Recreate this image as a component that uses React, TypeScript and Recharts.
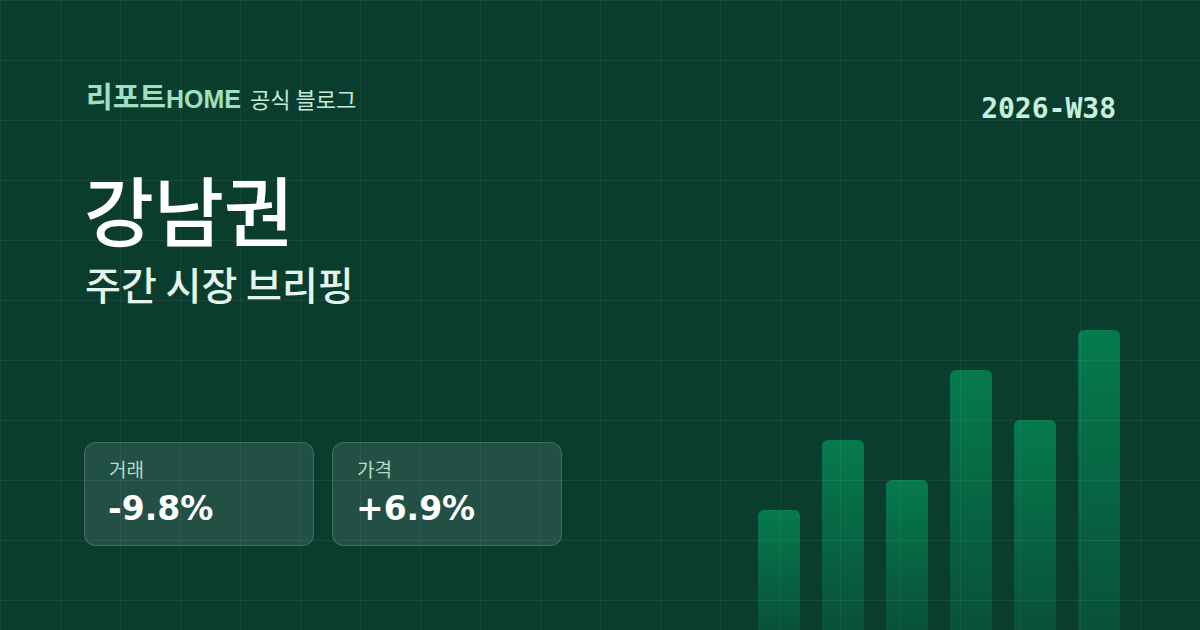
import React from "react";
import { BarChart, Bar, XAxis, YAxis } from "recharts";

const weeks = ["W33", "W34", "W35", "W36", "W37", "W38"];
const volumes = [120, 190, 150, 260, 210, 300];
const cardLabels = ["거래", "가격"];
const cardValues = ["-9.8%", "+6.9%"];

const data = weeks.map((w, i) => ({ week: w, v: volumes[i] }));

const cjk = '"Noto Sans CJK KR", sans-serif';

export default function App() {
  return (
    <div
      style={{
        position: "absolute",
        left: 0,
        top: 0,
        width: 1200,
        height: 630,
        overflow: "hidden",
        background: "#0b3d2f",
      }}
    >
      <div style={{ position: "absolute", left: 0, top: 0 }}>
        <BarChart
          width={1200}
          height={630}
          data={data}
          margin={{ top: 330, right: 69, bottom: 0, left: 747 }}
        >
          <defs>
            <linearGradient id="barGrad" x1="0" y1="0" x2="0" y2="1">
              <stop offset="0%" stopColor="#02a060" stopOpacity={0.62} />
              <stop offset="100%" stopColor="#02a060" stopOpacity={0.2} />
            </linearGradient>
          </defs>
          <XAxis dataKey="week" hide />
          <YAxis hide domain={[0, 300]} />
          <Bar
            dataKey="v"
            barSize={42}
            radius={[6, 6, 0, 0]}
            fill="url(#barGrad)"
            isAnimationActive={false}
          />
        </BarChart>
      </div>
      <div
        style={{
          position: "absolute",
          inset: 0,
          pointerEvents: "none",
          backgroundImage:
            "linear-gradient(to right, rgba(255,255,255,0.06) 1px, transparent 1px), linear-gradient(to bottom, rgba(255,255,255,0.06) 1px, transparent 1px)",
          backgroundSize: "60px 60px",
        }}
      />
      {cardLabels.map((lab, i) => (
        <div
          key={lab}
          style={{
            position: "absolute",
            left: 84 + i * 248,
            top: 442,
            width: 228,
            height: 102,
            borderRadius: 12,
            background: "rgba(255,255,255,0.1)",
            border: "1px solid rgba(255,255,255,0.16)",
          }}
        />
      ))}
      <svg
        width={1200}
        height={630}
        style={{ position: "absolute", left: 0, top: 0, pointerEvents: "none" }}
      >
        <text x={86} y={108} fontWeight={700} fill="#9ee0bf">
          <tspan fontFamily={cjk} fontSize={29}>리포트</tspan>
          <tspan fontFamily='"Liberation Sans", Arial, sans-serif' fontSize={25}>HOME</tspan>
        </text>
        <text x={250} y={108} fontFamily={cjk} fontSize={22} fill="#c8e8d8">
          공식 블로그
        </text>
        <text
          x={1116}
          y={118}
          textAnchor="end"
          fontFamily='"DejaVu Sans Mono", monospace'
          fontWeight={700}
          fontSize={28}
          fill="#c8f0dc"
        >
          2026-W38
        </text>
        <text x={84} y={241} fontFamily={cjk} fontWeight={500} fontSize={76} fill="#ffffff">
          강남권
        </text>
        <text x={85} y={300} fontFamily={cjk} fontWeight={500} fontSize={39} fill="#e4f5ec">
          주간 시장 브리핑
        </text>
        {cardLabels.map((lab, i) => (
          <g key={lab}>
            <text x={109 + i * 248} y={477} fontFamily={cjk} fontSize={19} fill="#b5dcc8">
              {lab}
            </text>
            <text
              x={108 + i * 248}
              y={520}
              fontFamily='"DejaVu Sans", sans-serif'
              fontWeight={700}
              fontSize={33}
              fill="#ffffff"
            >
              {cardValues[i]}
            </text>
          </g>
        ))}
      </svg>
    </div>
  );
}
